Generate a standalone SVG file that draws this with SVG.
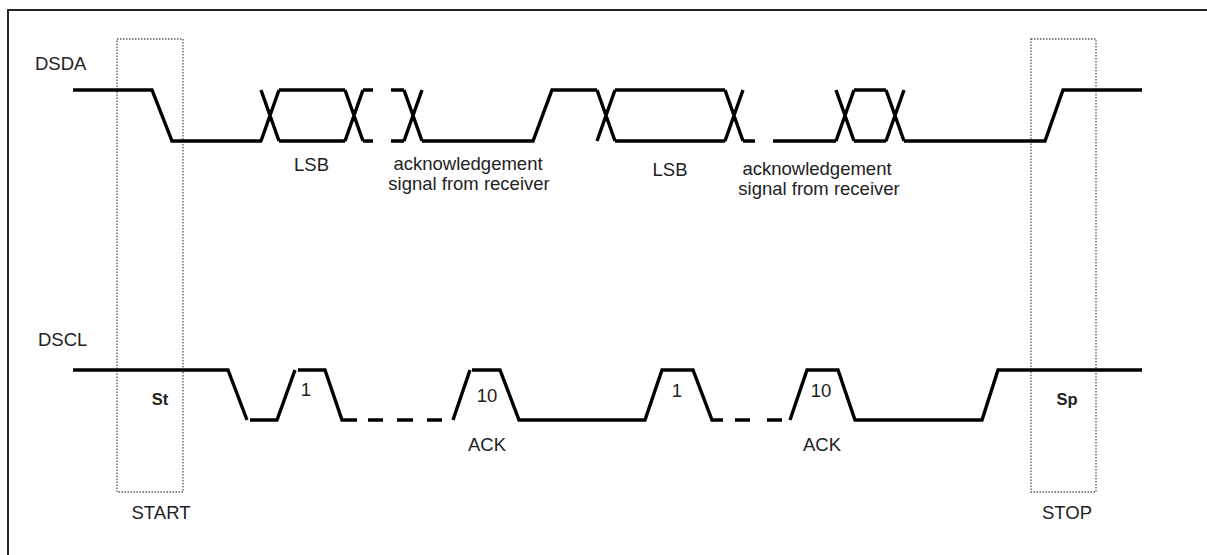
<svg xmlns="http://www.w3.org/2000/svg" width="1207" height="555" viewBox="0 0 1207 555">
<style>
.w{fill:none;stroke:#000;stroke-width:3.4;stroke-linecap:butt;stroke-linejoin:miter}
.box{fill:none;stroke:#555;stroke-width:1.3;stroke-dasharray:1.5 1.5}
.t{font-family:"Liberation Sans",Arial,sans-serif;font-size:18.5px;fill:#222}
.m{text-anchor:middle}
.b{font-weight:bold;font-size:16.5px}
</style>
<rect x="8" y="10" width="1300" height="600" fill="#fff" stroke="#000" stroke-width="1.7"/>
<g id="start-box"><rect class="box" x="117" y="39" width="66" height="453"/><text class="t m" x="161" y="519">START</text><text class="t b m" x="160" y="405">St</text></g>
<g id="stop-box"><rect class="box" x="1031" y="39" width="65" height="453"/><text class="t m" x="1067" y="519">STOP</text><text class="t b m" x="1067" y="405">Sp</text></g>
<g id="dsda">
<text class="t" x="35" y="70">DSDA</text>
<path class="w" d="M73,90H152L172,141H262M261,90L279,141M261,141L279,90M279,90H345M279,141H345M345,90L363,141M345,141L363,90M363,90H373M363,141H373M391,90H404M391,141H404M404,90L422,141M404,141L422,90M422,141H533L552,90H597M597,90L615,141M597,141L615,90M615,90H725M615,141H725M725,90L743,141M725,141L743,90M743,141H755M773,141H836M836,90L854,141M836,141L854,90M854,90H886M854,141H886M886,90L904,141M886,141L904,90M904,141H1045L1063,90H1142"/>
<text class="t m" x="311.5" y="171">LSB</text>
<text class="t m" x="468" y="170">acknowledgement</text>
<text class="t m" x="469" y="190">signal from receiver</text>
<text class="t m" x="670" y="176">LSB</text>
<text class="t m" x="817" y="175">acknowledgement</text>
<text class="t m" x="819" y="195">signal from receiver</text>
</g>
<g id="dscl">
<text class="t" x="38" y="346">DSCL</text>
<path class="w" d="M73,370H228L247,420M250,420H277L295,370M298,370H325L342,420H357M368,420H383M397,420H413M427,420H442M453,420L470,370M472,370H500L519,420H645L662,370H693L712,420H723M735,420H750M767,420H782M790,420L807,370H838L855,420H982L998,370H1142"/>
<text class="t m" x="306" y="396">1</text>
<text class="t m" x="487" y="402">10</text>
<text class="t m" x="677" y="397">1</text>
<text class="t m" x="821" y="397">10</text>
<text class="t m" x="487" y="451">ACK</text>
<text class="t m" x="822" y="451">ACK</text>
</g>
</svg>
